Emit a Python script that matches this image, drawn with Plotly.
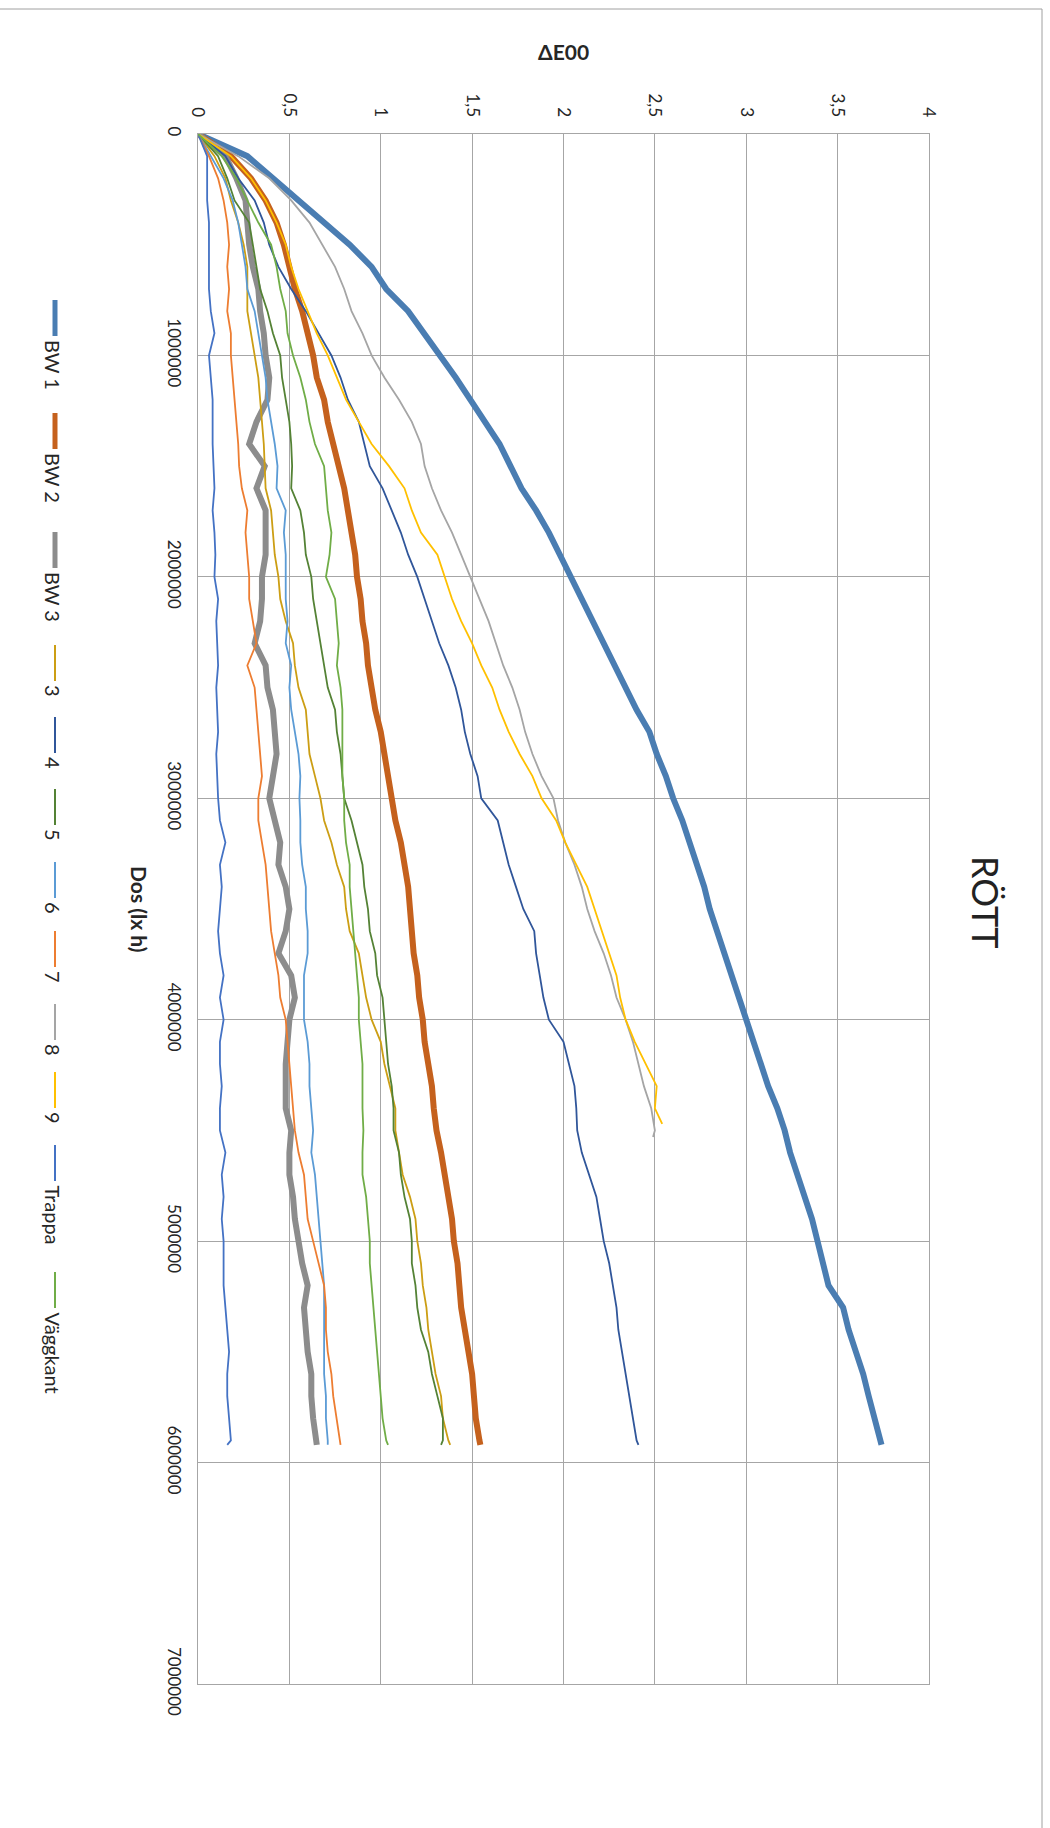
import plotly.graph_objects as go

# Dose values (lx h) for the twelve samples
DOS = [0, 100000, 200000, 300000, 400000, 500000, 600000, 700000, 800000, 900000,
       1000000, 1100000, 1200000, 1300000, 1400000, 1500000, 1600000, 1700000, 1800000, 1900000,
       2000000, 2100000, 2200000, 2300000, 2400000, 2500000, 2600000, 2700000, 2800000, 2900000,
       3000000, 3100000, 3200000, 3300000, 3400000, 3500000, 3600000, 3700000, 3800000, 3900000,
       4000000, 4100000, 4200000, 4300000, 4400000, 4500000, 4600000, 4700000, 4800000, 4900000,
       5000000, 5100000, 5200000, 5300000, 5400000, 5500000, 5600000, 5700000, 5800000, 5900000,
       5920000]
DOS_8 = [0, 100000, 200000, 300000, 400000, 500000, 600000, 700000, 800000, 900000,
         1000000, 1100000, 1200000, 1300000, 1400000, 1500000, 1600000, 1700000, 1800000, 1900000,
         2000000, 2100000, 2200000, 2300000, 2400000, 2500000, 2600000, 2700000, 2800000, 2900000,
         3000000, 3100000, 3200000, 3300000, 3400000, 3500000, 3600000, 3700000, 3800000, 3900000,
         4000000, 4100000, 4200000, 4300000, 4400000, 4500000, 4530000]
DOS_9 = [0, 100000, 200000, 300000, 400000, 500000, 600000, 700000, 800000, 900000,
         1000000, 1100000, 1200000, 1300000, 1400000, 1500000, 1600000, 1700000, 1800000, 1900000,
         2000000, 2100000, 2200000, 2300000, 2400000, 2500000, 2600000, 2700000, 2800000, 2900000,
         3000000, 3100000, 3200000, 3300000, 3400000, 3500000, 3600000, 3700000, 3800000, 3900000,
         4000000, 4100000, 4200000, 4300000, 4400000, 4470000]

# ΔE00 per sample
BW1 = [0, 0.27, 0.41, 0.55, 0.70, 0.83, 0.95, 1.03, 1.15, 1.24,
       1.33, 1.41, 1.49, 1.57, 1.65, 1.71, 1.77, 1.85, 1.92, 1.98,
       2.04, 2.10, 2.16, 2.22, 2.28, 2.34, 2.40, 2.47, 2.51, 2.56,
       2.60, 2.65, 2.69, 2.73, 2.77, 2.80, 2.84, 2.88, 2.92, 2.96,
       3.00, 3.04, 3.08, 3.12, 3.17, 3.21, 3.24, 3.28, 3.32, 3.36,
       3.39, 3.42, 3.45, 3.53, 3.56, 3.60, 3.64, 3.67, 3.70, 3.73,
       3.74]
BW2 = [0, 0.18, 0.29, 0.37, 0.43, 0.47, 0.50, 0.53, 0.57, 0.60,
       0.63, 0.65, 0.69, 0.71, 0.74, 0.765, 0.80, 0.82, 0.84, 0.86,
       0.87, 0.89, 0.90, 0.92, 0.93, 0.95, 0.97, 1.00, 1.02, 1.04,
       1.06, 1.08, 1.11, 1.13, 1.15, 1.16, 1.17, 1.18, 1.20, 1.21,
       1.23, 1.24, 1.26, 1.28, 1.29, 1.305, 1.33, 1.35, 1.37, 1.39,
       1.40, 1.42, 1.43, 1.44, 1.46, 1.48, 1.50, 1.51, 1.52, 1.54,
       1.545]
BW3 = [0, 0.15, 0.21, 0.26, 0.27, 0.28, 0.30, 0.33, 0.34, 0.36,
       0.37, 0.39, 0.38, 0.32, 0.28, 0.365, 0.32, 0.37, 0.37, 0.37,
       0.35, 0.35, 0.34, 0.31, 0.37, 0.38, 0.41, 0.42, 0.43, 0.41,
       0.39, 0.42, 0.45, 0.44, 0.48, 0.50, 0.48, 0.44, 0.51, 0.53,
       0.50, 0.49, 0.48, 0.48, 0.48, 0.51, 0.50, 0.50, 0.52, 0.53,
       0.55, 0.57, 0.60, 0.58, 0.59, 0.60, 0.62, 0.62, 0.63, 0.64,
       0.65]
S3 = [0, 0.09, 0.15, 0.18, 0.22, 0.25, 0.27, 0.27, 0.27, 0.29,
      0.31, 0.33, 0.34, 0.35, 0.36, 0.365, 0.37, 0.40, 0.41, 0.42,
      0.44, 0.45, 0.48, 0.52, 0.53, 0.55, 0.59, 0.60, 0.61, 0.64,
      0.67, 0.69, 0.73, 0.76, 0.80, 0.81, 0.83, 0.88, 0.90, 0.92,
      0.95, 1.00, 1.02, 1.05, 1.08, 1.08, 1.10, 1.12, 1.16, 1.19,
      1.20, 1.22, 1.23, 1.25, 1.26, 1.28, 1.30, 1.33, 1.34, 1.37,
      1.38]
S4 = [0, 0.15, 0.22, 0.31, 0.36, 0.39, 0.44, 0.51, 0.59, 0.66,
      0.73, 0.78, 0.82, 0.88, 0.91, 0.94, 1.01, 1.06, 1.11, 1.15,
      1.20, 1.24, 1.28, 1.32, 1.37, 1.41, 1.44, 1.46, 1.49, 1.53,
      1.55, 1.64, 1.67, 1.70, 1.74, 1.78, 1.84, 1.85, 1.87, 1.89,
      1.92, 2.00, 2.03, 2.06, 2.07, 2.075, 2.10, 2.14, 2.18, 2.20,
      2.22, 2.25, 2.27, 2.29, 2.30, 2.32, 2.34, 2.36, 2.38, 2.40,
      2.41]
S5 = [0, 0.11, 0.16, 0.20, 0.28, 0.30, 0.32, 0.34, 0.38, 0.41,
      0.45, 0.46, 0.48, 0.50, 0.51, 0.515, 0.51, 0.56, 0.58, 0.59,
      0.62, 0.63, 0.65, 0.67, 0.69, 0.71, 0.75, 0.76, 0.78, 0.79,
      0.80, 0.84, 0.87, 0.90, 0.91, 0.93, 0.94, 0.97, 0.98, 1.01,
      1.02, 1.03, 1.04, 1.06, 1.07, 1.07, 1.10, 1.11, 1.13, 1.16,
      1.17, 1.17, 1.19, 1.20, 1.22, 1.26, 1.28, 1.31, 1.34, 1.34,
      1.33]
S6 = [0, 0.07, 0.14, 0.19, 0.22, 0.24, 0.26, 0.27, 0.31, 0.33,
      0.35, 0.37, 0.38, 0.40, 0.42, 0.435, 0.43, 0.48, 0.47, 0.48,
      0.48, 0.48, 0.49, 0.48, 0.51, 0.50, 0.51, 0.53, 0.55, 0.56,
      0.555, 0.56, 0.56, 0.57, 0.59, 0.59, 0.60, 0.60, 0.58, 0.58,
      0.58, 0.60, 0.61, 0.61, 0.62, 0.63, 0.62, 0.64, 0.65, 0.66,
      0.67, 0.68, 0.69, 0.69, 0.69, 0.69, 0.69, 0.70, 0.70, 0.71,
      0.71]
S7 = [0, 0.06, 0.11, 0.14, 0.16, 0.17, 0.16, 0.17, 0.16, 0.18,
      0.18, 0.19, 0.20, 0.21, 0.22, 0.225, 0.24, 0.27, 0.26, 0.27,
      0.28, 0.28, 0.30, 0.32, 0.27, 0.31, 0.32, 0.33, 0.34, 0.35,
      0.33, 0.33, 0.35, 0.37, 0.38, 0.39, 0.40, 0.42, 0.44, 0.45,
      0.48, 0.49, 0.50, 0.51, 0.52, 0.53, 0.55, 0.58, 0.59, 0.60,
      0.63, 0.66, 0.69, 0.70, 0.70, 0.71, 0.73, 0.74, 0.76, 0.78,
      0.78]
S8 = [0, 0.22, 0.39, 0.51, 0.61, 0.68, 0.75, 0.80, 0.84, 0.90,
      0.95, 1.02, 1.10, 1.17, 1.22, 1.24, 1.28, 1.33, 1.39, 1.44,
      1.49, 1.54, 1.59, 1.63, 1.67, 1.72, 1.76, 1.79, 1.83, 1.88,
      1.945, 1.97, 2.01, 2.06, 2.10, 2.13, 2.17, 2.22, 2.26, 2.29,
      2.34, 2.38, 2.41, 2.44, 2.48, 2.50, 2.49]
S9 = [0, 0.18, 0.29, 0.37, 0.43, 0.48, 0.51, 0.55, 0.60, 0.65,
      0.71, 0.76, 0.81, 0.88, 0.95, 1.045, 1.13, 1.17, 1.22, 1.31,
      1.35, 1.39, 1.44, 1.50, 1.55, 1.61, 1.65, 1.70, 1.76, 1.83,
      1.88, 1.96, 2.01, 2.07, 2.13, 2.17, 2.21, 2.25, 2.29, 2.31,
      2.34, 2.39, 2.45, 2.51, 2.50, 2.54]
TRAPPA = [0, 0.05, 0.05, 0.05, 0.06, 0.06, 0.06, 0.06, 0.07, 0.09,
          0.06, 0.07, 0.08, 0.08, 0.08, 0.085, 0.09, 0.08, 0.09, 0.095,
          0.09, 0.11, 0.10, 0.105, 0.11, 0.10, 0.105, 0.11, 0.10, 0.105,
          0.11, 0.12, 0.15, 0.12, 0.13, 0.12, 0.11, 0.12, 0.14, 0.12,
          0.14, 0.12, 0.12, 0.13, 0.12, 0.12, 0.15, 0.13, 0.14, 0.13,
          0.14, 0.14, 0.14, 0.15, 0.16, 0.17, 0.16, 0.16, 0.17, 0.18,
          0.16]
VAGGKANT = [0, 0.13, 0.21, 0.27, 0.33, 0.40, 0.43, 0.45, 0.48, 0.49,
            0.52, 0.56, 0.59, 0.61, 0.64, 0.69, 0.70, 0.71, 0.73, 0.72,
            0.70, 0.75, 0.76, 0.77, 0.76, 0.78, 0.79, 0.79, 0.79, 0.79,
            0.80, 0.80, 0.81, 0.83, 0.83, 0.84, 0.85, 0.86, 0.87, 0.88,
            0.88, 0.89, 0.90, 0.90, 0.90, 0.905, 0.90, 0.90, 0.92, 0.93,
            0.94, 0.94, 0.95, 0.96, 0.97, 0.98, 0.99, 1.00, 1.01, 1.03,
            1.04]

NAMES = ["BW 1", "BW 2", "BW 3", "3", "4", "5", "6", "7", "8", "9", "Trappa", "Väggkant"]
SERIES = [BW1, BW2, BW3, S3, S4, S5, S6, S7, S8, S9, TRAPPA, VAGGKANT]
DOSES = [DOS, DOS, DOS, DOS, DOS, DOS, DOS, DOS, DOS_8, DOS_9, DOS, DOS]
COLORS = ["#4a7db2", "#c5611d", "#8c8c8c", "#cc9e14", "#30569a", "#548235",
          "#5b9bd5", "#ed7d31", "#a5a5a5", "#ffc000", "#4472c4", "#70ad47"]
WIDTHS = [6, 6, 6, 1.8, 1.8, 1.8, 1.8, 1.8, 1.8, 1.8, 1.8, 1.8]

DE_TICKS = [0, 0.5, 1, 1.5, 2, 2.5, 3, 3.5, 4]
DE_LABELS = ["0", "0,5", "1", "1,5", "2", "2,5", "3", "3,5", "4"]
DOS_TICKS = [0, 1000000, 2000000, 3000000, 4000000, 5000000, 6000000, 7000000]
DOS_LABELS = ["0", "1000000", "2000000", "3000000", "4000000", "5000000", "6000000", "7000000"]

W, H = 1050, 1828
L, R, T, B = 198, 929, 134, 1684  # plot area in pixels
FONT = "Lato, 'Open Sans', sans-serif"
GRID = "#a6a6a6"


def px(x):
    return (x - L) / (R - L)


def py(y):
    return (B - y) / (B - T)


fig = go.Figure()
for name, d, v, c, w in zip(NAMES, DOSES, SERIES, COLORS, WIDTHS):
    fig.add_trace(go.Scatter(x=v, y=d, mode="lines", name=name,
                             line=dict(color=c, width=w), showlegend=False))

# Hand-built rotated legend down the left side
LEG_Y = [300, 413, 532, 645, 717, 789, 862, 931, 1004, 1072, 1145, 1272]
SEG = 36
shapes = []
annotations = []
for name, c, w, y0 in zip(NAMES, COLORS, WIDTHS, LEG_Y):
    shapes.append(dict(type="line", xref="paper", yref="paper",
                       x0=px(55), x1=px(55), y0=py(y0), y1=py(y0 + SEG),
                       line=dict(color=c, width=5 if w > 3 else 2)))
    annotations.append(dict(text=name, xref="paper", yref="paper",
                            x=px(53), y=py(y0 + SEG + 2), xanchor="center", yanchor="top",
                            textangle=90, showarrow=False,
                            font=dict(family=FONT, size=20, color="#262626")))

# Chart-area frame (top and right edges)
shapes.append(dict(type="line", xref="paper", yref="paper", x0=px(0), x1=px(1042),
                   y0=py(9), y1=py(9), line=dict(color="#a0a0a0", width=1)))
shapes.append(dict(type="line", xref="paper", yref="paper", x0=px(1042), x1=px(1042),
                   y0=py(9), y1=py(1828), line=dict(color="#a0a0a0", width=1)))

annotations += [
    dict(text="RÖTT", xref="paper", yref="paper", x=px(986), y=py(902),
         xanchor="center", yanchor="middle", textangle=90, showarrow=False,
         font=dict(family=FONT, size=36, color="#222222")),
    dict(text="<b>ΔE00</b>", xref="paper", yref="paper", x=px(563), y=py(52),
         xanchor="center", yanchor="middle", showarrow=False,
         font=dict(family=FONT, size=21, color="#262626")),
    dict(text="<b>Dos (lx h)</b>", xref="paper", yref="paper", x=px(140), y=py(909),
         xanchor="center", yanchor="middle", textangle=90, showarrow=False,
         font=dict(family=FONT, size=21, color="#262626")),
]

fig.update_layout(
    width=W, height=H,
    margin=dict(l=L, r=W - R, t=T, b=H - B, pad=0),
    paper_bgcolor="white", plot_bgcolor="white",
    shapes=shapes, annotations=annotations,
    font=dict(family=FONT, color="#262626"),
)
fig.update_xaxes(range=[0, 4], side="top", tickvals=DE_TICKS, ticktext=DE_LABELS,
                 tickangle=90, ticks="", ticklabelstandoff=10,
                 tickfont=dict(family=FONT, size=17, color="#262626"),
                 showgrid=True, gridcolor=GRID, gridwidth=1, zeroline=False,
                 showline=True, linecolor=GRID, linewidth=1, mirror=True)
fig.update_yaxes(range=[7000000, 0], tickvals=DOS_TICKS, ticktext=DOS_LABELS,
                 tickangle=90, ticks="", ticklabelstandoff=9,
                 tickfont=dict(family=FONT, size=17, color="#262626"),
                 showgrid=True, gridcolor=GRID, gridwidth=1, zeroline=False,
                 showline=True, linecolor=GRID, linewidth=1, mirror=True)

fig.write_html("out.html")
